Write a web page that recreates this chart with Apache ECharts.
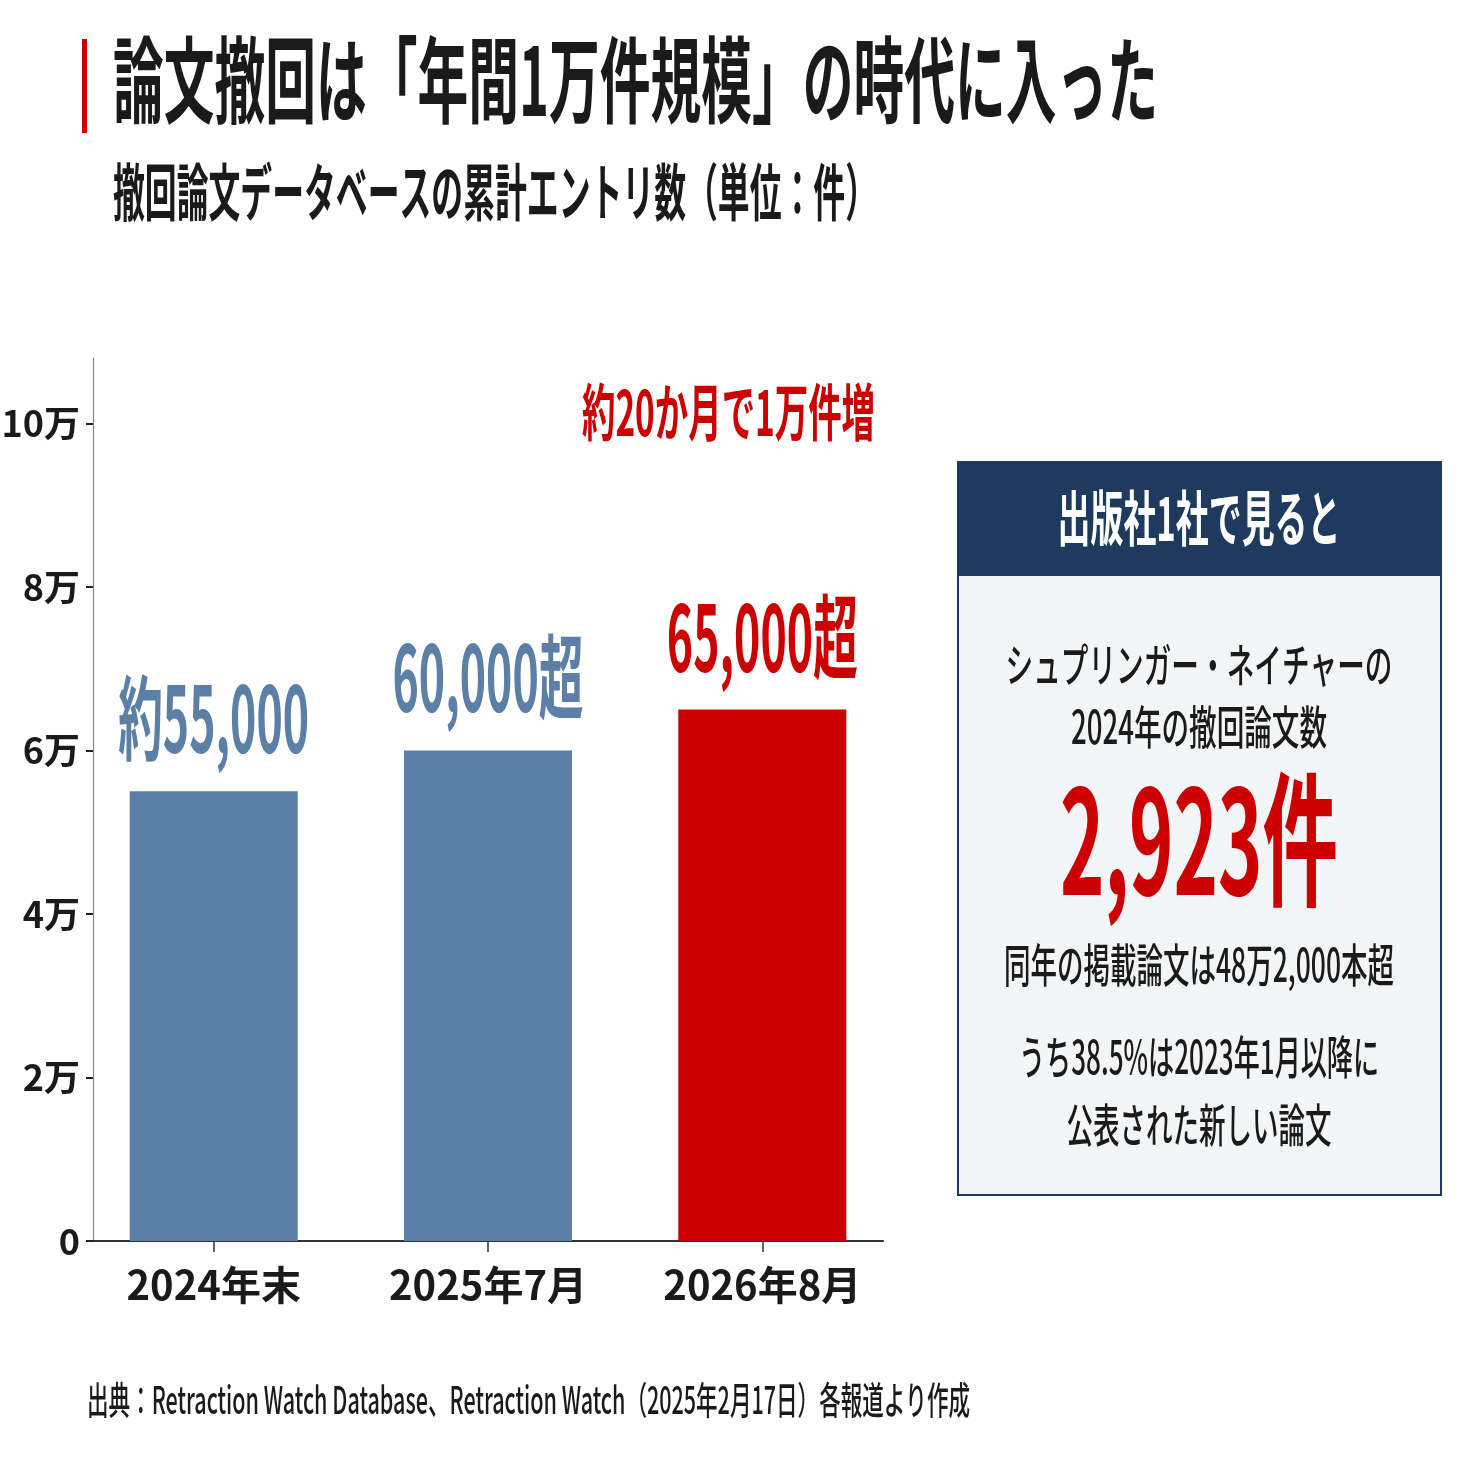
<!DOCTYPE html>
<html>
<head>
<meta charset="utf-8">
<script src="https://cdn.jsdelivr.net/npm/echarts@6/dist/echarts.min.js"></script>
<style>
  html, body { margin: 0; padding: 0; background: #fff; }
  #main { width: 1461px; height: 1461px; }
</style>
</head>
<body>
<div id="main"></div>
<script>
// データ
const categories = ['2024年末', '2025年7月', '2026年8月'];
const values = [55000, 60000, 65000];
const valueLabels = ['約55,000', '60,000超', '65,000超'];
const barColors = ['#5b7fa6', '#5b7fa6', '#cc0000'];
const yTickValues = [0, 20000, 40000, 60000, 80000, 100000];
const yTickLabels = ['0', '2万', '4万', '6万', '8万', '10万'];

const titleText = '論文撤回は「年間1万件規模」の時代に入った';
const subtitleText = '撤回論文データベースの累計エントリ数（単位：件）';
const noteText = '約20か月で1万件増';
const panelTitle = '出版社1社で見ると';
const panelLines = ['シュプリンガー・ネイチャーの', '2024年の撤回論文数'];
const panelNumber = '2,923件';
const panelNotes = ['同年の掲載論文は48万2,000本超', 'うち38.5%は2023年1月以降に', '公表された新しい論文'];
const sourceText = '出典：Retraction Watch Database、Retraction Watch（2025年2月17日）各報道より作成';

const FONT = '"Noto Sans CJK JP", "Noto Sans", sans-serif';
const RED = '#cc0000';
const NAVY = '#1f3a5f';
const INK = '#1a1a1a';

// 文字幅を測って横方向に詰める（元図は長体）
const measureCtx = document.createElement('canvas').getContext('2d');
function fitScale(text, font, width) {
  measureCtx.font = font;
  return width / measureCtx.measureText(text).width;
}

function condensedText(text, x, y, size, width, opts) {
  const o = opts || {};
  const font = (o.weight || 'bold') + ' ' + size + 'px ' + FONT;
  const align = o.align || 'left';
  return {
    type: 'text',
    x: x,
    y: y,
    scaleX: fitScale(text, font, width),
    silent: true,
    style: {
      text: text,
      font: font,
      fill: o.color || INK,
      align: align,
      verticalAlign: 'middle',
      textAlign: align,
      textVerticalAlign: 'middle'
    }
  };
}

const chart = echarts.init(document.getElementById('main'));

const barData = values.map((v, i) => ({
  value: [i, v],
  itemStyle: { color: barColors[i] }
}));

const graphics = [
  { type: 'rect', shape: { x: 82, y: 39, width: 5, height: 94 }, style: { fill: RED }, silent: true },
  condensedText(titleText, 113, 80, 94, 1045),
  condensedText(subtitleText, 113, 192, 62, 764),
  condensedText(noteText, 875, 412, 62, 293, { align: 'right', color: RED }),
  // 右パネル
  { type: 'rect', shape: { x: 958, y: 462, width: 483, height: 733 }, style: { fill: '#f4f5f6', stroke: NAVY, lineWidth: 2 }, silent: true },
  { type: 'rect', shape: { x: 958, y: 462, width: 483, height: 114 }, style: { fill: NAVY }, silent: true },
  condensedText(panelTitle, 1199, 518, 60, 283, { align: 'center', color: '#ffffff' }),
  condensedText(panelLines[0], 1199, 665, 46, 387, { align: 'center', weight: 500 }),
  condensedText(panelLines[1], 1199, 727, 46, 256, { align: 'center', weight: 500 }),
  condensedText(panelNumber, 1199, 840, 145, 278, { align: 'center', color: RED }),
  condensedText(panelNotes[0], 1199, 965, 46, 390, { align: 'center', weight: 500 }),
  condensedText(panelNotes[1], 1199, 1057, 46, 360, { align: 'center', weight: 500 }),
  condensedText(panelNotes[2], 1199, 1125, 46, 265, { align: 'center', weight: 500 }),
  condensedText(sourceText, 87, 1400, 38, 883, { weight: 500 })
];

const option = {
  animation: false,
  backgroundColor: '#ffffff',
  grid: { left: 93, top: 358, width: 790, height: 883, containLabel: false, outerBoundsMode: 'none' },
  xAxis: {
    type: 'value',
    min: -0.44,
    max: 2.44,
    splitLine: { show: false },
    axisLine: { show: true, onZero: false, lineStyle: { color: '#333', width: 2 } },
    axisTick: {
      show: true,
      customValues: [0, 1, 2],
      length: 11,
      lineStyle: { color: '#333', width: 1.5 }
    },
    axisLabel: {
      customValues: [0, 1, 2],
      formatter: v => categories[Math.round(v)],
      margin: 24,
      color: INK,
      fontFamily: FONT,
      fontWeight: 'bold',
      fontSize: 40
    }
  },
  yAxis: {
    type: 'value',
    min: 0,
    max: 108000,
    splitLine: { show: false },
    axisLine: { show: true, onZero: false, lineStyle: { color: '#888', width: 1.2 } },
    axisTick: {
      show: true,
      customValues: yTickValues,
      length: 7,
      lineStyle: { color: '#222', width: 2 }
    },
    axisLabel: {
      customValues: yTickValues,
      formatter: v => yTickLabels[yTickValues.indexOf(v)],
      margin: 13,
      color: INK,
      fontFamily: FONT,
      fontWeight: 'bold',
      fontSize: 36
    }
  },
  series: [
    {
      type: 'bar',
      barWidth: 168,
      data: barData,
      silent: true
    },
    {
      // 棒の上の数値ラベル
      type: 'custom',
      silent: true,
      z: 5,
      data: values.map((v, i) => [i, v]),
      renderItem: (params, api) => {
        const i = params.dataIndex;
        const p = api.coord([api.value(0), api.value(1)]);
        const font = 'bold 92px ' + FONT;
        return {
          type: 'text',
          x: p[0],
          y: p[1] - 73,
          scaleX: fitScale(valueLabels[i], font, 191),
          style: {
            text: valueLabels[i],
            font: font,
            fill: barColors[i],
            align: 'center',
            verticalAlign: 'middle',
            textAlign: 'center',
            textVerticalAlign: 'middle'
          }
        };
      }
    }
  ],
  graphic: graphics
};

chart.setOption(option);
</script>
</body>
</html>
